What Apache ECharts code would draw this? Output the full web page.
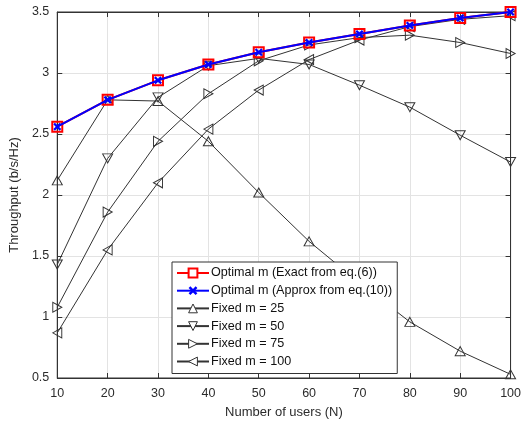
<!DOCTYPE html>
<html><head><meta charset="utf-8">
<script src="https://cdn.jsdelivr.net/npm/echarts@6/dist/echarts.min.js"></script>
<style>html,body{margin:0;padding:0;background:#fff}#c{width:524px;height:429px}</style>
</head><body><div id="c"></div>
<script>
const users = [10,20,30,40,50,60,70,80,90,100];
const optExact  = [2.56,2.78,2.94,3.07,3.17,3.25,3.32,3.39,3.45,3.50];
const optApprox = [2.56,2.78,2.94,3.07,3.17,3.25,3.32,3.39,3.45,3.50];
const fixed25  = [2.12,2.78,2.77,2.44,2.02,1.62,1.28,0.96,0.72,0.53];
const fixed50  = [1.43,2.30,2.80,3.06,3.12,3.07,2.90,2.72,2.49,2.27];
const fixed75  = [1.08,1.86,2.44,2.83,3.10,3.23,3.29,3.31,3.25,3.16];
const fixed100 = [0.87,1.55,2.10,2.54,2.86,3.11,3.27,3.38,3.44,3.47];
const names = ['Optimal m (Exact from eq.(6))','Optimal m (Approx from eq.(10))','Fixed m = 25','Fixed m = 50','Fixed m = 75','Fixed m = 100'];
const xTicks = [10,20,30,40,50,60,70,80,90,100];
const yTicks = [0.5,1,1.5,2,2.5,3,3.5];

const pair = a => users.map((u,i)=>[u,a[i]]);
const font = 'Liberation Sans, Arial, sans-serif';
const X = 'path://M2,0L5,3L8,0L10,2L7,5L10,8L8,10L5,7L2,10L0,8L3,5L0,2Z';
const hollow = {color:'rgba(255,255,255,0)', borderColor:'#333', borderWidth:1};
function fixedSeries(name, data, rot){
  return {name, type:'line', data:pair(data), symbol:'triangle', symbolSize:[10,9], symbolRotate:rot,
    lineStyle:{color:'#333', width:1}, itemStyle:hollow,
    emphasis:{disabled:true}, z:2};
}
const chart = echarts.init(document.getElementById('c'), null, {renderer:'canvas'});
const axisCol = '#333';
const txtCol = '#2b2b2b';
chart.setOption({
  animation:false,
  backgroundColor:'#fff',
  grid:{left:56, right:9, top:12, bottom:51, show:true, borderColor:axisCol, borderWidth:1},
  xAxis:[{type:'value', min:10, max:100, interval:10, name:'Number of users (N)', nameLocation:'middle', nameGap:28,
    nameTextStyle:{fontFamily:font, fontSize:13, color:txtCol},
    axisLine:{lineStyle:{color:axisCol}}, axisTick:{inside:true, length:5, lineStyle:{color:axisCol}},
    axisLabel:{fontFamily:font, fontSize:12.5, color:txtCol, margin:9},
    splitLine:{show:true, lineStyle:{color:'#e3e3e3'}}},
    {type:'value', position:'top', min:10, max:100, interval:10, axisLine:{lineStyle:{color:axisCol}},
    axisTick:{inside:true, length:5, lineStyle:{color:axisCol}}, axisLabel:{show:false}, splitLine:{show:false}}],
  yAxis:[{type:'value', min:0.5, max:3.5, interval:0.5, name:'Throughput (b/s/Hz)', nameLocation:'middle', nameGap:31,
    nameTextStyle:{fontFamily:font, fontSize:13, color:txtCol},
    axisLine:{show:true, lineStyle:{color:axisCol}}, axisTick:{show:true, inside:true, length:5, lineStyle:{color:axisCol}},
    axisLabel:{fontFamily:font, fontSize:12.5, color:txtCol, margin:8},
    splitLine:{show:true, lineStyle:{color:'#e3e3e3'}}},
    {type:'value', position:'right', min:0.5, max:3.5, interval:0.5, axisLine:{show:true, lineStyle:{color:axisCol}},
    axisTick:{show:true, inside:true, length:5, lineStyle:{color:axisCol}}, axisLabel:{show:false}, splitLine:{show:false}}],
  legend:{orient:'vertical', left:172, top:262,
    data:[
      {name:names[0], itemStyle:{color:'#fff', borderColor:'#ff0000', borderWidth:2}},
      {name:names[1]},
      {name:names[2], itemStyle:{color:'#fff', borderColor:'#333', borderWidth:1}},
      {name:names[3], itemStyle:{color:'#fff', borderColor:'#333', borderWidth:1}},
      {name:names[4], itemStyle:{color:'#fff', borderColor:'#333', borderWidth:1}},
      {name:names[5], itemStyle:{color:'#fff', borderColor:'#333', borderWidth:1}}
    ],
    backgroundColor:'#fff', borderColor:'#333', borderWidth:1,
    borderRadius:0, padding:[4,5,5,4], itemWidth:32, itemHeight:11, itemGap:3.7,
    textStyle:{fontFamily:font, fontSize:12.6, lineHeight:14, color:'#111', padding:[0,0,0,-3]}, z:10},
  series:[
    {name:names[0], type:'line', data:pair(optExact), symbol:'rect', symbolSize:10,
      lineStyle:{color:'#ff0000', width:2}, itemStyle:{color:'rgba(255,255,255,0)', borderColor:'#ff0000', borderWidth:2}, z:3},
    {name:names[1], type:'line', data:pair(optApprox), symbol:X, symbolSize:8,
      lineStyle:{color:'#0000ff', width:2}, itemStyle:{color:'#0000ff'}, z:4},
    fixedSeries(names[2], fixed25, 0),
    fixedSeries(names[3], fixed50, 180),
    fixedSeries(names[4], fixed75, -90),
    fixedSeries(names[5], fixed100, 90)
  ]
});
</script></body></html>
